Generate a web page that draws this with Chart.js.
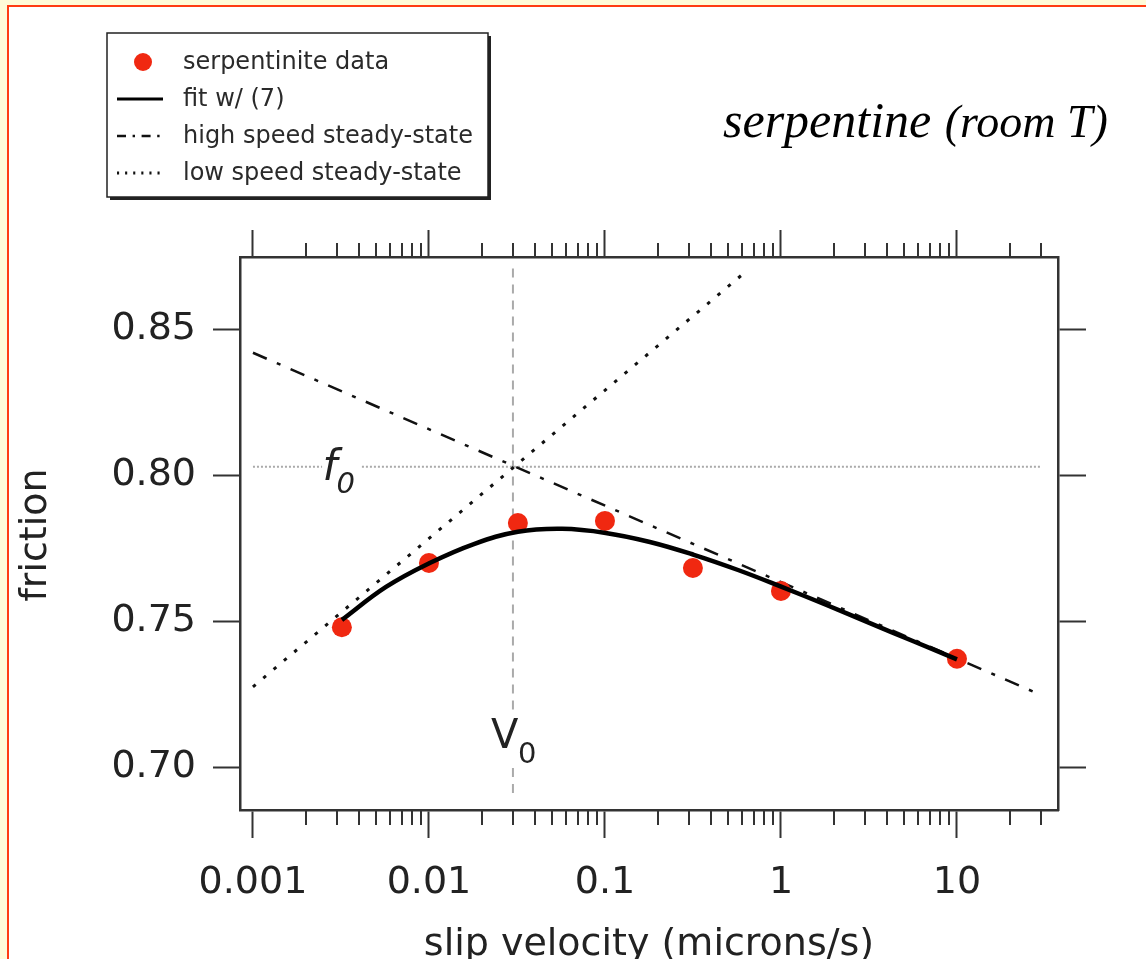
<!DOCTYPE html>
<html>
<head>
<meta charset="utf-8">
<title>serpentine friction vs slip velocity</title>
<script src="https://cdn.jsdelivr.net/npm/chart.js@4.4.1/dist/chart.umd.min.js"></script>
<style>
  html, body { margin: 0; padding: 0; background: #fffbd8; overflow: hidden; }
  #frame {
    position: absolute; left: 7px; top: 5px; width: 1300px; height: 1100px;
    background: #fff; border-left: 2px solid #ff3b12; border-top: 2px solid #ff3b12;
  }
  #wrap { position: absolute; left: 0; top: 0; width: 1146px; height: 959px; }
</style>
</head>
<body>
<div id="frame"></div>
<div id="wrap"><canvas id="chart" width="1146" height="959"></canvas></div>
<script>
// measured friction at each slip velocity (microns/s)
const dataVelocity = [0.0032, 0.01, 0.032, 0.1, 0.316, 1, 10];
const dataFriction = [0.748, 0.770, 0.7837, 0.7844, 0.7683, 0.7604, 0.7372];

// fitted curve, eq. (7)
const fitVelocity = [0.0032, 0.0057, 0.0101, 0.018, 0.032, 0.057, 0.101, 0.18, 0.32, 0.57, 1.01, 1.8, 3.2, 5.7, 10];
const fitFriction = [0.7505, 0.7618, 0.7700, 0.7765, 0.7807, 0.7817, 0.7803, 0.7772, 0.7728, 0.7676, 0.7618, 0.7557, 0.7494, 0.7431, 0.7370];

// steady-state asymptotes
const highSpeedVelocity = [0.001, 30];
const highSpeedFriction = [0.842, 0.7248];
const lowSpeedVelocity = [0.001, 0.62];
const lowSpeedFriction = [0.7276, 0.8694];

// reference velocity and friction (the crossing point)
const V0 = 0.03;
const f0 = 0.803;
const f0LineVelocity = [0.001, 0.00247, 0.00416, 30];   // broken around the f0 label
const V0LineFriction = [0.8709, 0.719, 0.6998, 0.6889]; // broken around the V0 label

const xTickValues = [0.001, 0.01, 0.1, 1, 10];
const xTickLabels = ["0.001", "0.01", "0.1", "1", "10"];
const yTickValues = [0.70, 0.75, 0.80, 0.85];
const yTickLabels = ["0.70", "0.75", "0.80", "0.85"];

const X_MIN = 0.000844, X_MAX = 37.5;
const Y_MIN = 0.6854, Y_MAX = 0.8748;

const axisColor = '#333';
const textColor = '#222';
const sans = 'DejaVu Sans';
const tickFont = { family: sans, size: 38 };

function pts(xs, ys) {
  return xs.map((x, i) => ({ x, y: ys[i] }));
}

// minor log ticks 2..9 inside each decade
function minorTicks() {
  const out = [];
  xTickValues.forEach(d => {
    for (let m = 2; m <= 9; m++) {
      const v = d * m;
      if (v < X_MAX) out.push(v);
    }
  });
  return out;
}

const f0Line = [
  { x: f0LineVelocity[0], y: f0 }, { x: f0LineVelocity[1], y: f0 },
  { x: 0.0032, y: null },
  { x: f0LineVelocity[2], y: f0 }, { x: f0LineVelocity[3], y: f0 }
];
const V0Line = [
  { x: V0, y: V0LineFriction[0] }, { x: V0, y: V0LineFriction[1] },
  { x: V0, y: null },
  { x: V0, y: V0LineFriction[2] }, { x: V0, y: V0LineFriction[3] }
];

const datasets = [
  {
    label: 'fit w/ (7)',
    data: pts(fitVelocity, fitFriction),
    showLine: true, borderColor: '#000', borderWidth: 4.5, pointRadius: 0,
    tension: 0.4, order: 0
  },
  {
    label: 'serpentinite data',
    data: pts(dataVelocity, dataFriction),
    showLine: false, pointRadius: 10, pointBackgroundColor: '#f02811',
    pointBorderWidth: 0, borderColor: '#f02811', order: 1
  },
  {
    label: 'high speed steady-state',
    data: pts(highSpeedVelocity, highSpeedFriction),
    showLine: true, borderColor: '#111', borderWidth: 2.5, borderDash: [15, 11, 4, 11],
    pointRadius: 0, order: 2
  },
  {
    label: 'low speed steady-state',
    data: pts(lowSpeedVelocity, lowSpeedFriction),
    showLine: true, borderColor: '#111', borderWidth: 3, borderDash: [3.5, 10],
    pointRadius: 0, order: 2
  },
  {
    label: 'f0',
    data: f0Line,
    showLine: true, borderColor: '#aaa', borderWidth: 2, borderDash: [2, 2],
    pointRadius: 0, spanGaps: false, order: 3
  },
  {
    label: 'V0',
    data: V0Line,
    showLine: true, borderColor: '#aaa', borderWidth: 2, borderDash: [9, 7],
    pointRadius: 0, spanGaps: false, order: 3
  }
];

// legend rows: dataset index and how its sample is drawn
const legendRows = [
  { ds: 1, kind: 'dot' },
  { ds: 0, kind: 'line' },
  { ds: 2, kind: 'line' },
  { ds: 3, kind: 'line' }
];

function drawLegend(chart) {
  const ctx = chart.ctx;
  const bx = 107, by = 33, bw = 381, bh = 164;
  ctx.save();
  ctx.fillStyle = '#222';
  ctx.fillRect(bx + 3, by + 3, bw, bh);
  ctx.fillStyle = '#fff';
  ctx.fillRect(bx, by, bw, bh);
  ctx.strokeStyle = '#222';
  ctx.lineWidth = 1.5;
  ctx.strokeRect(bx, by, bw, bh);

  ctx.font = '24px ' + sans;
  ctx.textBaseline = 'middle';
  ctx.textAlign = 'left';
  legendRows.forEach((row, i) => {
    const ds = chart.data.datasets[row.ds];
    const cy = 62 + i * 37;
    if (row.kind === 'dot') {
      ctx.fillStyle = ds.pointBackgroundColor;
      ctx.beginPath();
      ctx.arc(143, cy, 9, 0, Math.PI * 2);
      ctx.fill();
    } else {
      ctx.strokeStyle = ds.borderColor;
      ctx.lineWidth = Math.min(ds.borderWidth, 3);
      ctx.setLineDash(ds.borderDash ? ds.borderDash.map(d => d * 0.6) : []);
      ctx.beginPath();
      ctx.moveTo(117, cy);
      ctx.lineTo(163, cy);
      ctx.stroke();
      ctx.setLineDash([]);
    }
    ctx.fillStyle = '#2a2a2a';
    ctx.fillText(ds.label, 183, cy + 1);
  });
  ctx.restore();
}

const decorations = {
  id: 'decorations',
  afterDraw(chart) {
    const { ctx, chartArea } = chart;
    const x = chart.scales.x, y = chart.scales.y;

    // minor ticks on bottom and top axes
    ctx.save();
    ctx.strokeStyle = axisColor;
    ctx.lineWidth = 2;
    minorTicks().forEach(v => {
      const px = Math.round(x.getPixelForValue(v));
      ctx.beginPath();
      ctx.moveTo(px, chartArea.bottom);
      ctx.lineTo(px, chartArea.bottom + 15);
      ctx.moveTo(px, chartArea.top);
      ctx.lineTo(px, chartArea.top - 14);
      ctx.stroke();
    });

    // f0 and V0 labels
    ctx.fillStyle = textColor;
    ctx.textAlign = 'left';
    ctx.textBaseline = 'alphabetic';
    const fx = x.getPixelForValue(0.00255), fy = y.getPixelForValue(f0);
    ctx.font = 'italic 42px ' + sans;
    ctx.fillText('f', fx - 2, fy + 13);
    ctx.font = 'italic 29px ' + sans;
    ctx.fillText('0', fx + 12, fy + 26);

    const vx = x.getPixelForValue(V0);
    ctx.font = '40px ' + sans;
    ctx.fillText('V', vx - 22, 748);
    ctx.font = '29px ' + sans;
    ctx.fillText('0', vx + 5, 763);

    // axis titles
    ctx.font = '38px ' + sans;
    ctx.textAlign = 'center';
    ctx.fillText('slip velocity (microns/s)', 649, 955);
    ctx.save();
    ctx.translate(46, 535);
    ctx.rotate(-Math.PI / 2);
    ctx.fillText('friction', 0, 0);
    ctx.restore();

    // sample name
    ctx.fillStyle = '#000';
    ctx.textAlign = 'left';
    ctx.font = 'italic 50px "Liberation Serif"';
    ctx.fillText('serpentine', 723, 137);
    const w = ctx.measureText('serpentine ').width;
    ctx.font = 'italic 46px "Liberation Serif"';
    ctx.fillText('(room T)', 723 + w + 1, 137);
    ctx.restore();

    drawLegend(chart);
  }
};

const majorGrid = len => ({
  drawOnChartArea: false, drawTicks: true, tickLength: len,
  tickWidth: 2, tickColor: axisColor
});
const border = { display: true, color: axisColor, width: 2.5 };

new Chart(document.getElementById('chart'), {
  type: 'scatter',
  data: { datasets },
  options: {
    responsive: false,
    animation: false,
    layout: { padding: 0 },
    plugins: { legend: { display: false }, tooltip: { enabled: false }, title: { display: false } },
    scales: {
      x: {
        type: 'logarithmic', position: 'bottom', min: X_MIN, max: X_MAX,
        afterBuildTicks: s => { s.ticks = xTickValues.map(v => ({ value: v, major: true })); },
        afterFit: s => { s.height = 149; },
        ticks: {
          autoSkip: false, maxRotation: 0, padding: 22, color: textColor, font: tickFont,
          callback: v => xTickLabels[xTickValues.indexOf(v)] ?? ''
        },
        grid: majorGrid(28), border
      },
      xTop: {
        type: 'logarithmic', position: 'top', min: X_MIN, max: X_MAX,
        afterBuildTicks: s => { s.ticks = xTickValues.map(v => ({ value: v })); },
        afterFit: s => { s.height = 257; },
        ticks: { display: false },
        grid: majorGrid(27), border
      },
      y: {
        type: 'linear', position: 'left', min: Y_MIN, max: Y_MAX,
        afterBuildTicks: s => { s.ticks = yTickValues.map(v => ({ value: v })); },
        afterFit: s => { s.width = 240; },
        ticks: {
          padding: 17, color: textColor, font: tickFont,
          callback: v => yTickLabels[yTickValues.indexOf(v)] ?? ''
        },
        grid: majorGrid(27), border
      },
      yRight: {
        type: 'linear', position: 'right', min: Y_MIN, max: Y_MAX,
        afterBuildTicks: s => { s.ticks = yTickValues.map(v => ({ value: v })); },
        afterFit: s => { s.width = 88; },
        ticks: { display: false },
        grid: majorGrid(28), border
      }
    }
  },
  plugins: [decorations]
});
</script>
</body>
</html>
